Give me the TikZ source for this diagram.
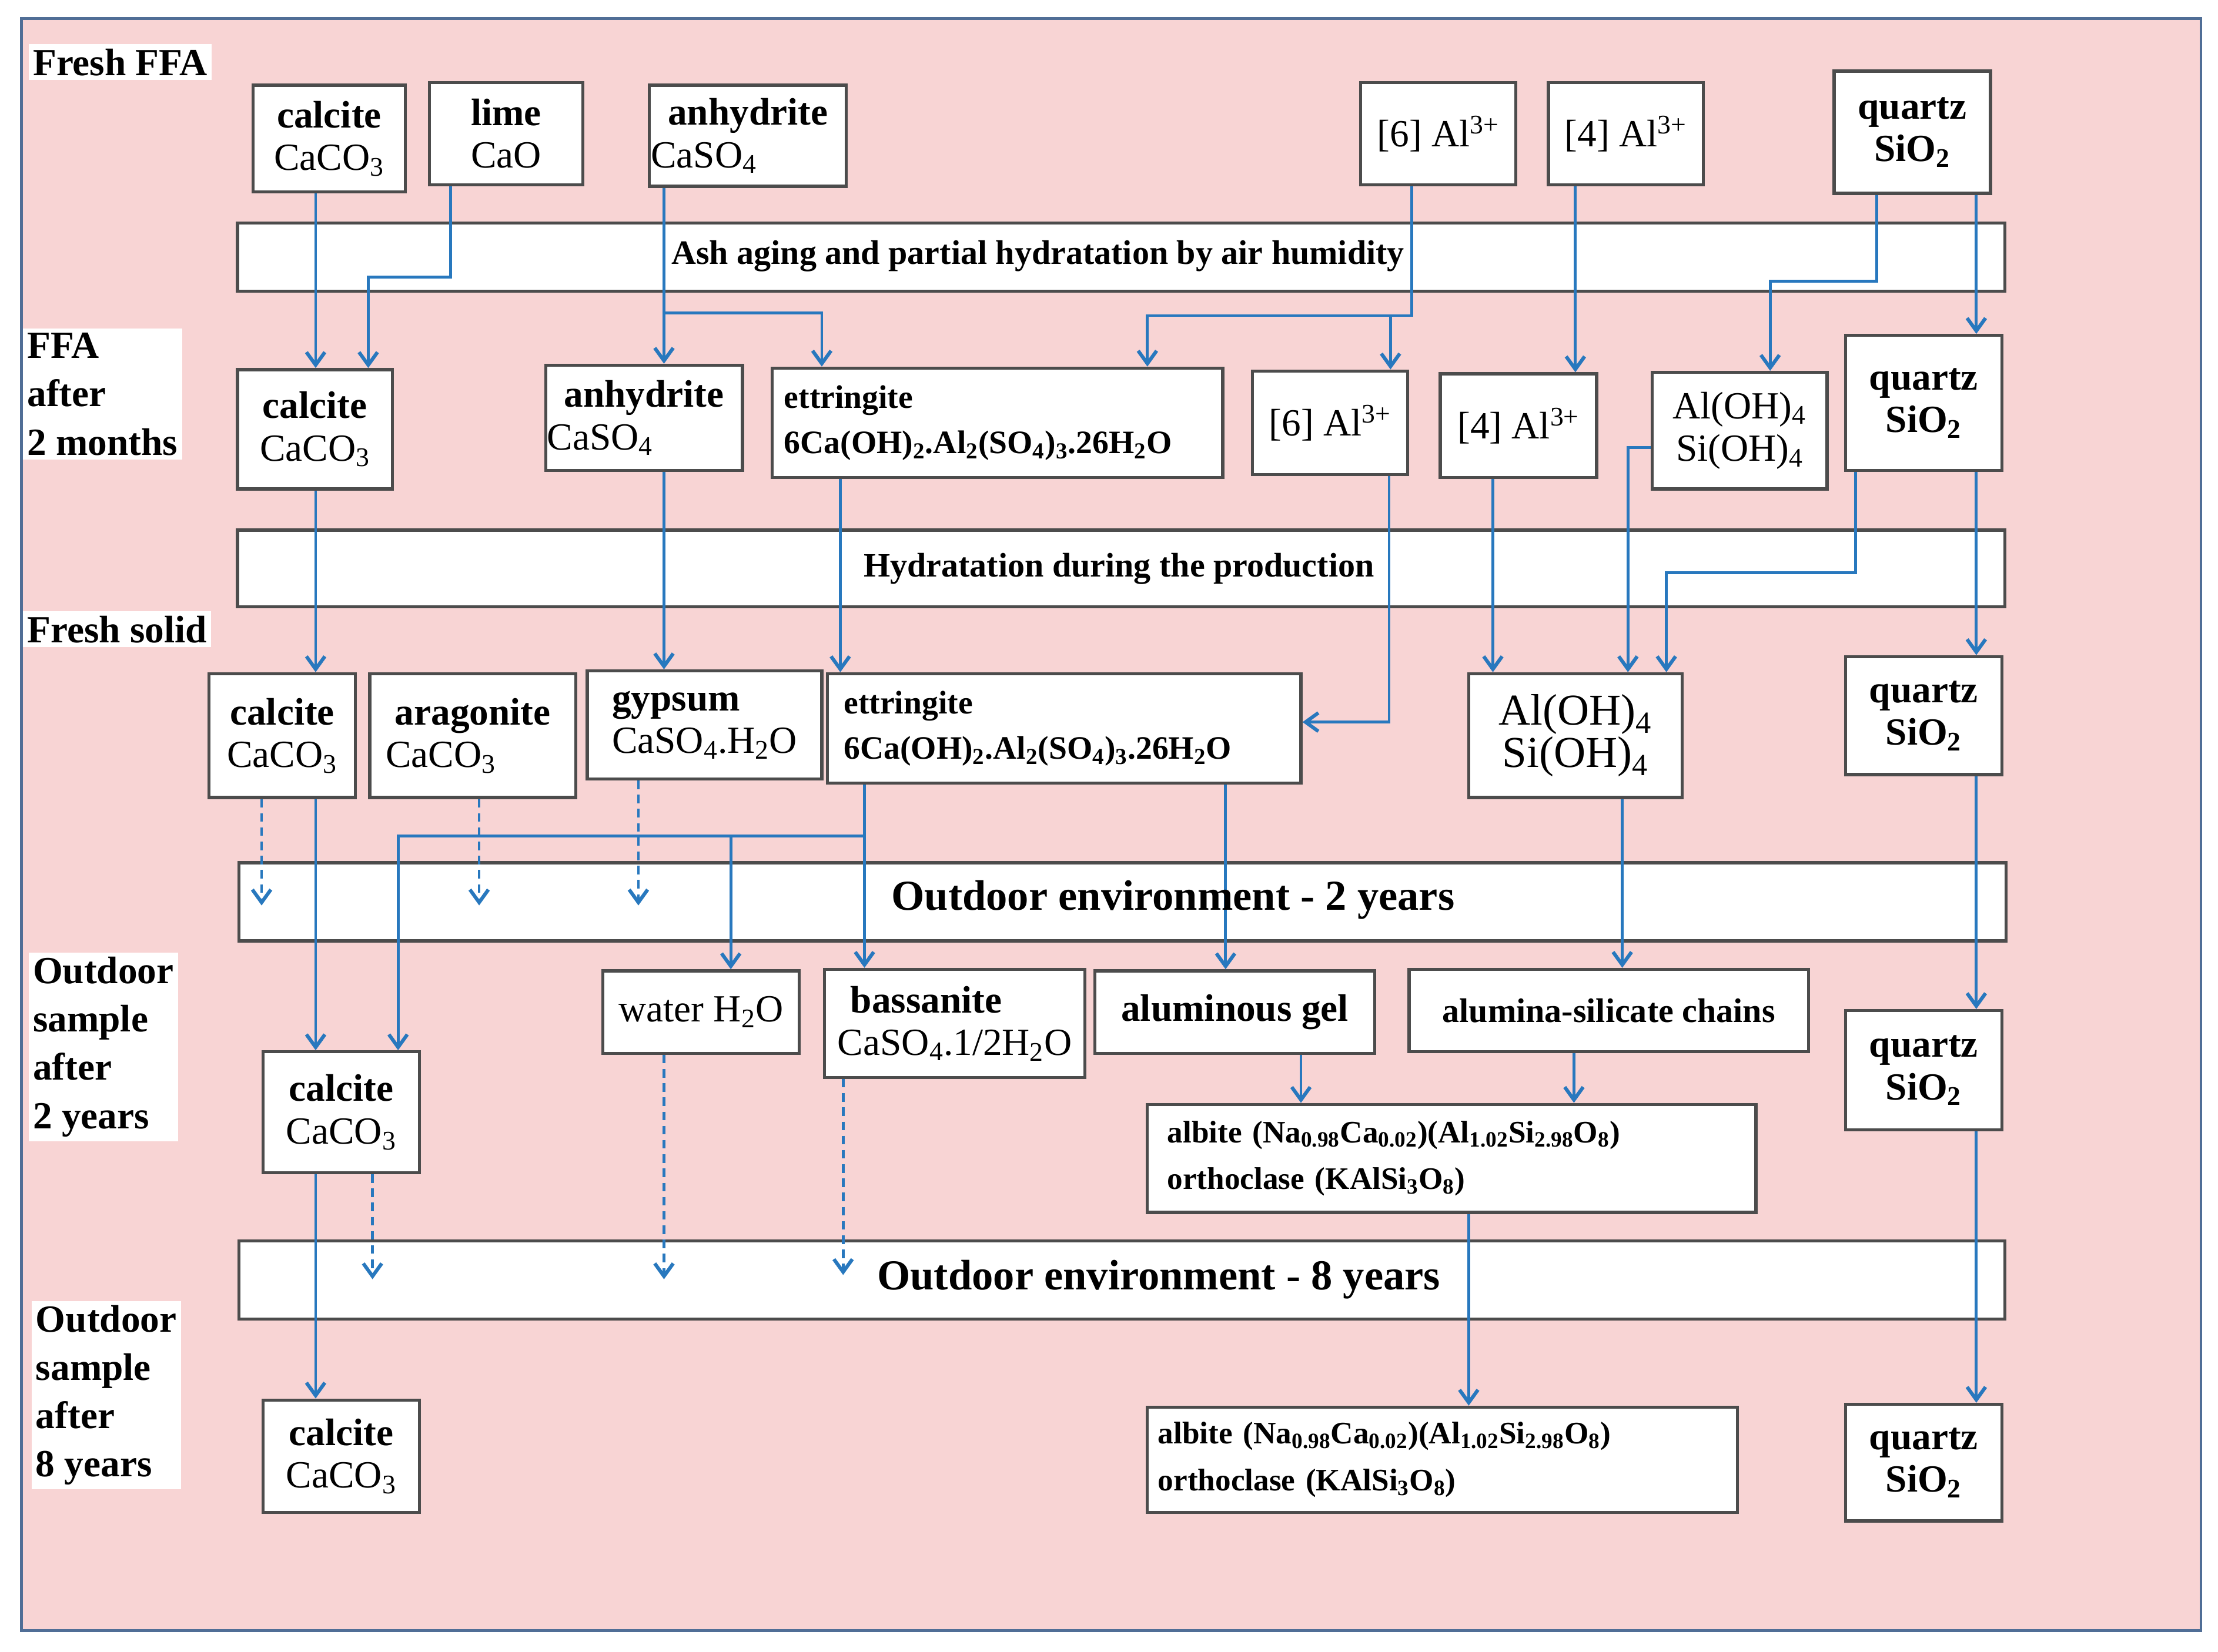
\documentclass[tikz,border=0pt]{standalone}
\usepackage{fontspec}
\setmainfont{Liberation Serif}
\usetikzlibrary{arrows.meta}
\definecolor{pinkbg}{RGB}{248,212,212}
\definecolor{frame}{RGB}{80,110,150}
\definecolor{arr}{RGB}{40,120,190}
\newcommand\sub[1]{\textsubscript{#1}}
\newcommand\bx[6]{\node[box,minimum width={(#4-#2)*1pt},minimum height={(#5-#3)*1pt}] (#1) at ({(#2+#4)/2},{(#3+#5)/2}) {#6};}
\begin{document}
\begin{tikzpicture}[x=1pt,y=-1pt,
  box/.style={draw=black!70,line width=2.2pt,fill=white,inner sep=1pt,align=center,font=\fontsize{27}{30}\selectfont},
  band/.style={draw=black!70,line width=2.2pt,fill=white},
  lab/.style={fill=white,align=left,anchor=north west,inner sep=3pt,font=\bfseries\fontsize{27}{34}\selectfont},
  ar/.style={draw=arr,line width=2pt,-{Straight Barb[length=9pt,width=13pt,line width=2.5pt]}},
  da/.style={ar,dash pattern=on 6pt off 4pt},
  ett/.style={box,align=left,font=\bfseries\fontsize{23}{32}\selectfont},
  alb/.style={box,align=left,text width=400pt,font=\bfseries\fontsize{22}{33}\selectfont}]
\useasboundingbox (0,0) rectangle (1560,1162);
\fill[white] (0,0) rectangle (1560,1162);
\draw[frame,line width=2pt,fill=pinkbg] (15,13) rectangle (1548,1147);
% labels
\node[lab] at (20,31) {Fresh FFA};
\node[lab] at (16,231) {FFA\\after\\2 months};
\node[lab] at (16,430) {Fresh solid};
\node[lab] at (20,670) {Outdoor\\sample\\after\\2 years};
\node[lab] at (22,915) {Outdoor\\sample\\after\\8 years};
% bands
\node[band,minimum width=1243pt,minimum height=48pt] (band1) at (788.5,181) {};
\node[band,minimum width=1243pt,minimum height=54pt] (band2) at (788.5,400) {};
\node[band,minimum width=1243pt,minimum height=55pt] (band3) at (789.5,634.5) {};
\node[band,minimum width=1242pt,minimum height=55pt] (band4) at (789,900.5) {};
% row 1
\bx{r1cal}{178}{60}{285}{135}{\textbf{calcite}\\CaCO\sub{3}}
\bx{r1lime}{302}{58}{410}{130}{\textbf{lime}\\CaO}
\bx{r1anh}{458}{60}{594}{131}{\textbf{anhydrite}\\CaSO\sub{4}\hspace*{62pt}}
\bx{r1al6}{957}{58}{1066}{130}{[6] Al\textsuperscript{3+}}
\bx{r1al4}{1089}{58}{1198}{130}{[4] Al\textsuperscript{3+}}
\bx{r1qz}{1290}{50}{1400}{136}{\textbf{quartz}\\\textbf{SiO\sub{2}}}
% row 2
\bx{r2cal}{167}{260}{276}{344}{\textbf{calcite}\\CaCO\sub{3}}
\bx{r2anh}{386}{257}{520}{331}{\textbf{anhydrite}\\CaSO\sub{4}\hspace*{62pt}}
\node[ett,minimum width=317pt,minimum height=77pt,text width=300pt] (r2ett) at (701.5,297.5) {ettringite\\6Ca(OH)\sub{2}.Al\sub{2}(SO\sub{4})\sub{3}.26H\sub{2}O};
\bx{r2al6}{881}{261}{990}{334}{[6] Al\textsuperscript{3+}}
\bx{r2al4}{1013}{263}{1123}{336}{[4] Al\textsuperscript{3+}}
\bx{r2aloh}{1162}{262}{1285}{344}{Al(OH)\sub{4}\\Si(OH)\sub{4}}
\bx{r2qz}{1298}{236}{1408}{331}{\textbf{quartz}\\\textbf{SiO\sub{2}}}
% row 3
\bx{r3cal}{147}{474}{250}{561}{\textbf{calcite}\\CaCO\sub{3}}
\bx{r3ara}{260}{474}{405}{561}{\textbf{aragonite}\\CaCO\sub{3}\hspace*{45pt}}
\bx{r3gyp}{413}{472}{578}{548}{\textbf{gypsum}\hspace*{40pt}\\CaSO\sub{4}.H\sub{2}O}
\node[ett,minimum width=333pt,minimum height=77pt,text width=310pt] (r3ett) at (748.5,512.5) {ettringite\\6Ca(OH)\sub{2}.Al\sub{2}(SO\sub{4})\sub{3}.26H\sub{2}O};
\bx{r3aloh}{1033}{474}{1183}{561}{\fontsize{31}{40}\selectfont Al(OH)\sub{4}\\\fontsize{31}{40}\selectfont Si(OH)\sub{4}}
\bx{r3qz}{1298}{462}{1408}{545}{\textbf{quartz}\\\textbf{SiO\sub{2}}}
% row 4
\bx{r4wat}{424}{683}{562}{741}{water H\sub{2}O}
\bx{r4bas}{580}{682}{763}{758}{\textbf{bassanite}\hspace*{40pt}\\CaSO\sub{4}.1/2H\sub{2}O}
\bx{r4gel}{770}{683}{967}{741}{\textbf{aluminous gel}}
\node[box,minimum width=281pt,minimum height=58pt,font=\bfseries\fontsize{24}{26}\selectfont] (r4chn) at (1131.5,711) {alumina-silicate chains};
\bx{r4cal}{185}{740}{295}{825}{\textbf{calcite}\\CaCO\sub{3}}
\node[alb,minimum width=428pt,minimum height=76pt] (r4alb) at (1021,815) {albite (Na\sub{0.98}Ca\sub{0.02})(Al\sub{1.02}Si\sub{2.98}O\sub{8})\\orthoclase (KAlSi\sub{3}O\sub{8})};
\bx{r4qz}{1298}{711}{1408}{795}{\textbf{quartz}\\\textbf{SiO\sub{2}}}
% row 5
\bx{r5cal}{185}{985}{295}{1064}{\textbf{calcite}\\CaCO\sub{3}}
\node[alb,minimum width=415pt,minimum height=74pt] (r5alb) at (1014.5,1027) {albite (Na\sub{0.98}Ca\sub{0.02})(Al\sub{1.02}Si\sub{2.98}O\sub{8})\\orthoclase (KAlSi\sub{3}O\sub{8})};
\bx{r5qz}{1298}{988}{1408}{1070}{\textbf{quartz}\\\textbf{SiO\sub{2}}}
% ---- arrows row1->row2
\draw[ar] (r1cal.south -| 222,0) -- (r2cal.north -| 222,0);
\draw[ar] (r1lime.south -| 317,0) -- (317,195) -- (259,195) -- (r2cal.north -| 259,0);
\draw[ar] (r1anh.south -| 467,0) -- (r2anh.north -| 467,0);
\draw[ar] (467,220) -- (578,220) -- (r2ett.north -| 578,0);
\draw[ar] (r1al6.south -| 993,0) -- (993,222) -- (807,222) -- (r2ett.north -| 807,0);
\draw[ar] (978,222) -- (r2al6.north -| 978,0);
\draw[ar] (r1al4.south -| 1108,0) -- (r2al4.north -| 1108,0);
\draw[ar] (r1qz.south -| 1320,0) -- (1320,198) -- (1245,198) -- (r2aloh.north -| 1245,0);
\draw[ar] (r1qz.south -| 1390,0) -- (r2qz.north -| 1390,0);
% row2->row3
\draw[ar] (r2cal.south -| 222,0) -- (r3cal.north -| 222,0);
\draw[ar] (r2anh.south -| 467,0) -- (r3gyp.north -| 467,0);
\draw[ar] (r2ett.south -| 591,0) -- (r3ett.north -| 591,0);
\draw[ar] (r2al6.south -| 977,0) -- (977,508) -- (r3ett.east |- 0,508);
\draw[ar] (r2al4.south -| 1050,0) -- (r3aloh.north -| 1050,0);
\draw[ar] (r2aloh.west |- 0,315) -- (1145,315) -- (r3aloh.north -| 1145,0);
\draw[ar] (r2qz.south -| 1305,0) -- (1305,403) -- (1172,403) -- (r3aloh.north -| 1172,0);
\draw[ar] (r2qz.south -| 1390,0) -- (r3qz.north -| 1390,0);
% row3->row4
\coordinate (d1) at (184,637); \coordinate (d2) at (337,637); \coordinate (d3) at (449,637);
\draw[da] (r3cal.south -| 184,0) -- (d1);
\draw[da] (r3ara.south -| 337,0) -- (d2);
\draw[da] (r3gyp.south -| 449,0) -- (d3);
\draw[ar] (r3cal.south -| 222,0) -- (r4cal.north -| 222,0);
\draw[ar] (r3ett.south -| 608,0) -- (r4bas.north -| 608,0);
\draw[ar] (608,588) -- (280,588) -- (r4cal.north -| 280,0);
\draw[ar] (514,588) -- (r4wat.north -| 514,0);
\draw[ar] (r3ett.south -| 862,0) -- (r4gel.north -| 862,0);
\draw[ar] (r3aloh.south -| 1141,0) -- (r4chn.north -| 1141,0);
\draw[ar] (r3qz.south -| 1390,0) -- (r4qz.north -| 1390,0);
% row4->row5
\draw[ar] (r4gel.south -| 915,0) -- (r4alb.north -| 915,0);
\draw[ar] (r4chn.south -| 1107,0) -- (r4alb.north -| 1107,0);
\coordinate (d4) at (262,900); \coordinate (d5) at (467,900); \coordinate (d6) at (593,897);
\draw[da] (r4cal.south -| 262,0) -- (d4);
\draw[da] (r4wat.south -| 467,0) -- (d5);
\draw[da] (r4bas.south -| 593,0) -- (d6);
\draw[ar] (r4cal.south -| 222,0) -- (r5cal.north -| 222,0);
\draw[ar] (r4alb.south -| 1033,0) -- (r5alb.north -| 1033,0);
\draw[ar] (r4qz.south -| 1390,0) -- (r5qz.north -| 1390,0);
% band texts
\node[font=\bfseries\fontsize{24}{26}\selectfont,inner sep=0pt] at (730,180) {Ash aging and partial hydratation by air humidity};
\node[font=\bfseries\fontsize{24}{26}\selectfont,inner sep=0pt] at (787,400) {Hydratation during the production};
\node[font=\bfseries\fontsize{30}{32}\selectfont,inner sep=0pt] at (825,633) {Outdoor environment - 2 years};
\node[font=\bfseries\fontsize{30}{32}\selectfont,inner sep=0pt] at (815,900) {Outdoor environment - 8 years};
\end{tikzpicture}
\end{document}
